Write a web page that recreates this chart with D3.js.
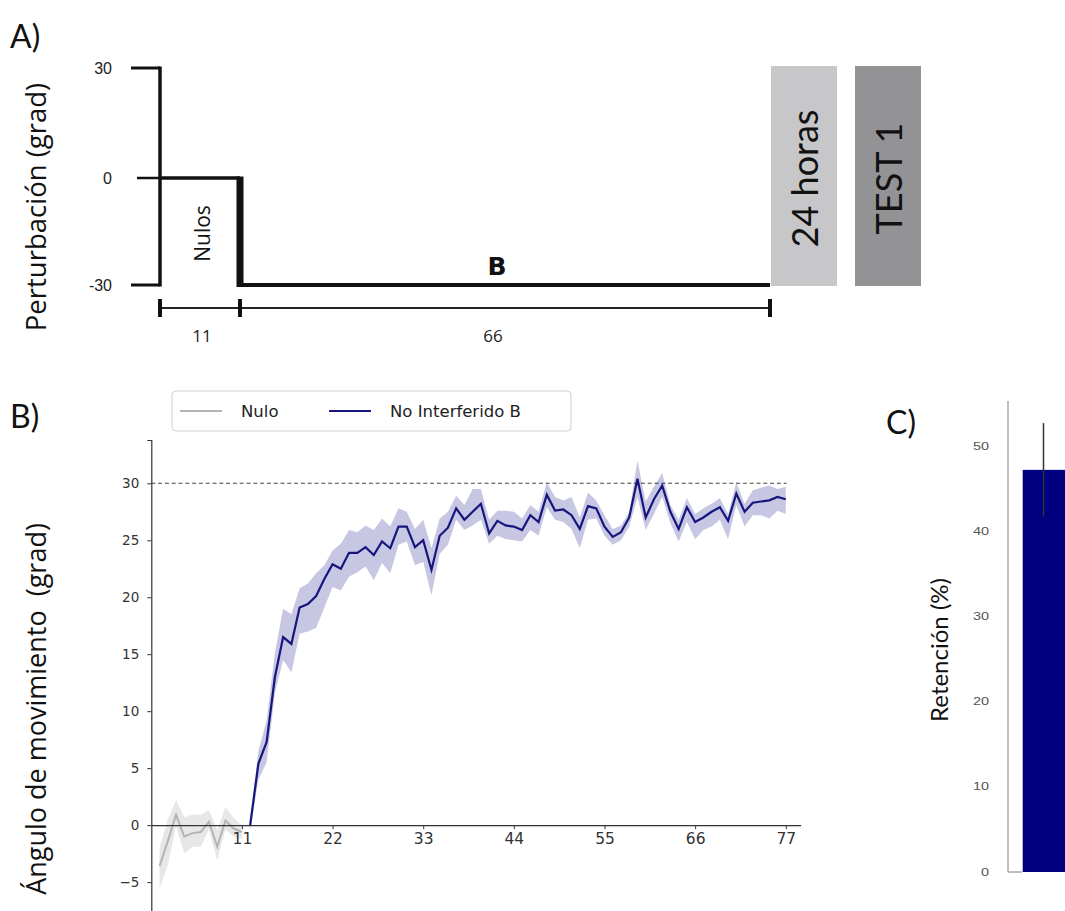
<!DOCTYPE html>
<html><head><meta charset="utf-8">
<script src="https://cdn.jsdelivr.net/npm/d3@7"></script>
<style>body{margin:0;background:#fff}svg{display:block}</style>
</head><body>
<svg id="chart" width="1065" height="911"></svg>
<script>
// ---------- Panel A: design ----------
const phaseNames = ["Nulos", "B"];
const phaseStarts = [0, 11];
const phaseEnds = [11, 77];
const phasePerturbation = [0, -30];
const phaseLengthLabels = ["11", "66"];
const perturbationTicks = [30, 0, -30];
const sessionBoxes = ["24 horas", "TEST 1"];

// ---------- Panel B: learning curves ----------
const nuloTrials = [1, 2, 3, 4, 5, 6, 7, 8, 9, 10, 11];
const nuloMean  = [-3.6, -1.4, 0.9, -1.0, -0.7, -0.6, 0.3, -1.9, 0.4, -0.3, -0.6];
const nuloLower = [-5.6, -3.5, -0.1, -2.5, -1.9, -1.9, -0.4, -3.1, -0.4, -1.0, -1.2];
const nuloUpper = [-2.0, 0.5, 2.2, 0.7, 0.9, 0.9, 1.3, -0.4, 1.6, 0.6, 0.0];

const bTrials = [12, 13, 14, 15, 16, 17, 18, 19, 20, 21, 22, 23, 24, 25, 26, 27, 28, 29, 30, 31, 32, 33,
  34, 35, 36, 37, 38, 39, 40, 41, 42, 43, 44, 45, 46, 47, 48, 49, 50, 51, 52, 53, 54, 55,
  56, 57, 58, 59, 60, 61, 62, 63, 64, 65, 66, 67, 68, 69, 70, 71, 72, 73, 74, 75, 76, 77];
const bMean = [0.0, 5.4, 7.3, 13.0, 16.5, 15.9, 19.1, 19.4, 20.1, 21.6, 22.9, 22.5, 23.9, 23.9, 24.4, 23.7,
  24.9, 24.3, 26.2, 26.2, 24.4, 25.0, 22.4, 25.4, 26.1, 27.8, 26.8, 27.5, 28.2, 25.6, 26.7, 26.3,
  26.2, 25.9, 27.2, 26.6, 29.0, 27.6, 27.7, 27.2, 26.0, 28.0, 27.8, 26.2, 25.3, 25.7, 27.0, 30.4,
  27.0, 28.6, 29.8, 27.5, 26.0, 27.9, 26.6, 27.0, 27.5, 27.9, 26.7, 29.1, 27.5, 28.3, 28.4, 28.5, 28.8, 28.6];
const bLower = [-0.5, 4.0, 5.5, 11.6, 14.5, 13.4, 16.8, 17.0, 17.3, 19.1, 20.9, 20.6, 21.8, 22.2, 22.7, 21.5,
  23.0, 22.1, 24.6, 24.9, 22.8, 23.1, 20.2, 23.8, 24.6, 26.8, 25.9, 26.3, 26.8, 24.7, 25.4, 25.1,
  25.0, 24.9, 25.9, 25.4, 27.9, 26.8, 26.6, 26.0, 24.3, 26.8, 26.9, 25.4, 24.6, 25.0, 26.2, 28.8,
  25.9, 27.3, 28.8, 26.5, 24.9, 26.6, 25.1, 25.9, 26.2, 26.8, 25.1, 28.1, 26.2, 27.2, 27.2, 26.9, 27.6, 27.3];
const bUpper = [0.5, 6.5, 9.2, 15.1, 19.0, 18.5, 20.8, 21.2, 22.1, 22.8, 24.1, 24.7, 25.9, 25.7, 26.3, 25.9,
  26.9, 26.2, 27.8, 27.5, 26.0, 26.8, 24.3, 26.9, 27.5, 28.9, 28.1, 29.5, 29.5, 26.8, 27.6, 27.6,
  27.5, 26.9, 28.1, 27.5, 30.1, 28.8, 28.5, 28.8, 27.0, 29.2, 28.5, 27.2, 26.0, 26.3, 27.5, 32.0,
  28.4, 29.7, 30.9, 28.1, 26.8, 28.7, 27.3, 27.8, 28.2, 28.7, 27.3, 30.1, 28.2, 29.4, 29.6, 29.8, 29.5, 29.7];
const seriesNames = ["Nulo", "No Interferido B"];
const targetAngle = 30;
const xTickValues = [11, 22, 33, 44, 55, 66, 77];
const yTickValues = [-5, 0, 5, 10, 15, 20, 25, 30];

// ---------- Panel C: retention ----------
const retentionGroups = ["No Interferido B"];
const retentionMean = [47.3];
const retentionErr = [5.5];
const retentionTicks = [0, 10, 20, 30, 40, 50];

const svg = d3.select("#chart");
const titleFont = "Lato, 'Open Sans', sans-serif";
const labelFont = "'Open Sans', Lato, sans-serif";

// =================== PANEL A ===================
const gA = svg.append("g");
const xA = d3.scaleLinear().domain([0, 11, 77]).range([160, 240, 770]);
const yA = d3.scaleLinear().domain([30, 0, -30]).range([68, 178, 285]);

gA.append("text").attr("x", 10).attr("y", 48).text("A)")
  .attr("font-family", titleFont).attr("font-size", 32).attr("fill", "#111");

gA.append("text")
  .attr("transform", `translate(46,207) rotate(-90)`)
  .attr("text-anchor", "middle").attr("font-family", labelFont).attr("font-size", 27.5).attr("fill", "#111")
  .text("Perturbación (grad)");

gA.selectAll("text.ptick").data(perturbationTicks).join("text").attr("class", "ptick")
  .attr("x", 112).attr("y", d => yA(d)).attr("dy", "0.35em").attr("text-anchor", "end")
  .attr("font-family", "'Liberation Sans', Arial, sans-serif").attr("font-size", 16).attr("fill", "#222")
  .text(d => d);

const black = "#111";
gA.append("line").attr("x1", 131).attr("x2", xA(0)).attr("y1", yA(30)).attr("y2", yA(30))
  .attr("stroke", black).attr("stroke-width", 3);
gA.append("line").attr("x1", 131).attr("x2", xA(0)).attr("y1", yA(-30)).attr("y2", yA(-30))
  .attr("stroke", black).attr("stroke-width", 3);
gA.append("line").attr("x1", xA(0)).attr("x2", xA(0)).attr("y1", yA(30) - 1.5).attr("y2", yA(-30) + 1.5)
  .attr("stroke", black).attr("stroke-width", 3.5);
gA.append("line").attr("x1", 137).attr("x2", xA(0)).attr("y1", yA(0)).attr("y2", yA(0))
  .attr("stroke", black).attr("stroke-width", 2.5);
const schedule = [];
phaseNames.forEach((n, i) => {
  schedule.push([phaseStarts[i], phasePerturbation[i]]);
  schedule.push([phaseEnds[i], phasePerturbation[i]]);
});
gA.append("path").attr("d", d3.line().x(d => xA(d[0])).y(d => yA(d[1]))(schedule.slice(0, 2)))
  .attr("fill", "none").attr("stroke", black).attr("stroke-width", 3.5);
gA.append("line").attr("x1", xA(11)).attr("x2", xA(11)).attr("y1", yA(0) - 1.5).attr("y2", yA(-30) + 2)
  .attr("stroke", black).attr("stroke-width", 7);
gA.append("path").attr("d", d3.line().x(d => xA(d[0])).y(d => yA(d[1]))(schedule.slice(2)))
  .attr("fill", "none").attr("stroke", black).attr("stroke-width", 4);

gA.append("text").attr("transform", `translate(${xA(5.5) + 10},${(yA(0) + yA(-30)) / 2 + 2}) rotate(-90)`)
  .attr("text-anchor", "middle").attr("font-family", labelFont).attr("font-size", 21).attr("fill", "#111")
  .text(phaseNames[0]);
gA.append("text").attr("x", (xA(11) + xA(77)) / 2 - 8).attr("y", yA(-30) - 10)
  .attr("text-anchor", "middle").attr("font-family", "'DejaVu Sans', sans-serif").attr("font-weight", "bold")
  .attr("font-size", 25).attr("fill", "#111").text(phaseNames[1]);

const yBr = 308;
gA.append("line").attr("x1", xA(0)).attr("x2", xA(77)).attr("y1", yBr).attr("y2", yBr)
  .attr("stroke", "#222").attr("stroke-width", 2.2);
[0, 11, 77].forEach(t => {
  gA.append("line").attr("x1", xA(t)).attr("x2", xA(t)).attr("y1", yBr - 9).attr("y2", yBr + 9)
    .attr("stroke", "#111").attr("stroke-width", 4);
});
phaseLengthLabels.forEach((l, i) => {
  gA.append("text").attr("x", (xA(phaseStarts[i]) + xA(phaseEnds[i])) / 2 + (i === 0 ? 2 : -12)).attr("y", 342)
    .attr("text-anchor", "middle").attr("font-family", labelFont).attr("font-size", 17).attr("fill", "#222")
    .text(l);
});

const boxX = d3.scaleBand().domain(sessionBoxes).range([771, 921]).paddingInner(0.214).paddingOuter(0);
const boxColors = ["#c7c7c9", "#939396"];
sessionBoxes.forEach((s, i) => {
  gA.append("rect").attr("x", boxX(s)).attr("y", yA(30) - 2).attr("width", boxX.bandwidth())
    .attr("height", yA(-30) - yA(30) + 3).attr("fill", boxColors[i]);
  gA.append("text").attr("transform", `translate(${boxX(s) + boxX.bandwidth() / 2 + 14},${(yA(30) + yA(-30)) / 2 + 2}) rotate(-90)`)
    .attr("text-anchor", "middle").attr("font-family", titleFont).attr("font-size", 36).attr("fill", "#111")
    .text(s);
});

// =================== PANEL B ===================
const gB = svg.append("g");
const xB = d3.scaleLinear().domain([0, 78.8]).range([151.3, 800.6]);
const yB = d3.scaleLinear().domain([-7.8, 33.8]).range([914, 440]);

gB.append("text").attr("x", 10).attr("y", 428).text("B)")
  .attr("font-family", titleFont).attr("font-size", 32).attr("fill", "#111");

gB.append("text").attr("transform", `translate(46,709) rotate(-90)`)
  .attr("text-anchor", "middle").attr("font-family", labelFont).attr("font-size", 27).attr("fill", "#111")
  .attr("xml:space", "preserve").text("Ángulo de movimiento  (grad)");

gB.append("line").attr("x1", xB(0)).attr("x2", xB(77.1)).attr("y1", yB(targetAngle)).attr("y2", yB(targetAngle))
  .attr("stroke", "#444").attr("stroke-width", 1.1).attr("stroke-dasharray", "4,2.8");

const nuloData = nuloTrials.map((t, i) => ({ t, m: nuloMean[i], lo: nuloLower[i], hi: nuloUpper[i] }));
const bData = bTrials.map((t, i) => ({ t, m: bMean[i], lo: bLower[i], hi: bUpper[i] }));
const area = d3.area().x(d => xB(d.t)).y0(d => yB(d.lo)).y1(d => yB(d.hi));
const line = d3.line().x(d => xB(d.t)).y(d => yB(d.m));

gB.append("path").attr("d", area(nuloData)).attr("fill", "#b0b0b0").attr("fill-opacity", 0.3);
gB.append("path").attr("d", area(bData)).attr("fill", "#000080").attr("fill-opacity", 0.22);
gB.append("path").attr("d", line(nuloData)).attr("fill", "none").attr("stroke", "#b4b4b4").attr("stroke-width", 2);
gB.append("path").attr("d", line(bData)).attr("fill", "none").attr("stroke", "#16167e").attr("stroke-width", 2.2);

const yAxisB = gB.append("g").attr("transform", `translate(${xB(0)},0)`)
  .call(d3.axisLeft(yB).tickValues(yTickValues).tickSize(4).tickPadding(8));
const xAxisB = gB.append("g").attr("transform", `translate(0,${yB(0)})`)
  .call(d3.axisBottom(xB).tickValues(xTickValues).tickSize(4).tickPadding(4).tickSizeOuter(0));
[yAxisB, xAxisB].forEach(a => {
  a.select(".domain").attr("stroke", "#333").attr("stroke-width", 1.2);
  a.selectAll(".tick line").attr("stroke", "#333");
  a.selectAll("text").attr("fill", "#333").attr("font-family", "'DejaVu Sans', sans-serif");
});
yAxisB.selectAll("text").attr("font-size", 13.5);
xAxisB.selectAll("text").attr("font-size", 15.5);

const leg = gB.append("g").attr("transform", "translate(172,391)");
leg.append("rect").attr("width", 399).attr("height", 40).attr("rx", 4)
  .attr("fill", "#fff").attr("stroke", "#d0d0d0").attr("stroke-width", 1);
const legColors = ["#b4b4b4", "#16167e"];
const legX = [8, 157];
seriesNames.forEach((n, i) => {
  leg.append("line").attr("x1", legX[i]).attr("x2", legX[i] + 42).attr("y1", 20).attr("y2", 20)
    .attr("stroke", legColors[i]).attr("stroke-width", 2);
  leg.append("text").attr("x", legX[i] + 61).attr("y", 20).attr("dy", "0.35em")
    .attr("font-family", "'DejaVu Sans', sans-serif").attr("font-size", 16.5).attr("fill", "#222").text(n);
});

// =================== PANEL C ===================
const gC = svg.append("g");
const yC = d3.scaleLinear().domain([0, 55.4]).range([872, 401]);
const xC = d3.scaleBand().domain(retentionGroups).range([1022.7, 1110]).padding(0);

gC.append("text").attr("x", 886).attr("y", 434).text("C)")
  .attr("font-family", titleFont).attr("font-size", 32).attr("fill", "#111");
gC.append("text").attr("transform", `translate(948,650) rotate(-90)`)
  .attr("text-anchor", "middle").attr("font-family", titleFont).attr("font-size", 24).attr("fill", "#111")
  .text("Retención (%)");

gC.append("line").attr("x1", 1008).attr("x2", 1008).attr("y1", yC.range()[1]).attr("y2", yC(0))
  .attr("stroke", "#a8a8a8").attr("stroke-width", 1.5);
gC.append("line").attr("x1", 1008).attr("x2", 1022).attr("y1", yC(0)).attr("y2", yC(0))
  .attr("stroke", "#a8a8a8").attr("stroke-width", 1.5);
retentionTicks.forEach(t => {
  gC.append("text").attr("transform", `translate(989,${yC(t)}) scale(1.45,1)`)
    .attr("dy", "0.35em").attr("text-anchor", "end")
    .attr("font-family", "'Liberation Sans', Arial, sans-serif").attr("font-size", 10).attr("fill", "#555")
    .text(t);
});
gC.selectAll("rect.bar").data(retentionGroups).join("rect").attr("class", "bar")
  .attr("x", d => xC(d)).attr("width", xC.bandwidth())
  .attr("y", (d, i) => yC(retentionMean[i])).attr("height", (d, i) => yC(0) - yC(retentionMean[i]))
  .attr("fill", "#000080");
retentionGroups.forEach((g, i) => {
  gC.append("line").attr("x1", 1043.5).attr("x2", 1043.5)
    .attr("y1", yC(retentionMean[i] + retentionErr[i])).attr("y2", yC(retentionMean[i] - retentionErr[i]))
    .attr("stroke", "#333").attr("stroke-width", 1.5);
});
</script>
</body></html>
